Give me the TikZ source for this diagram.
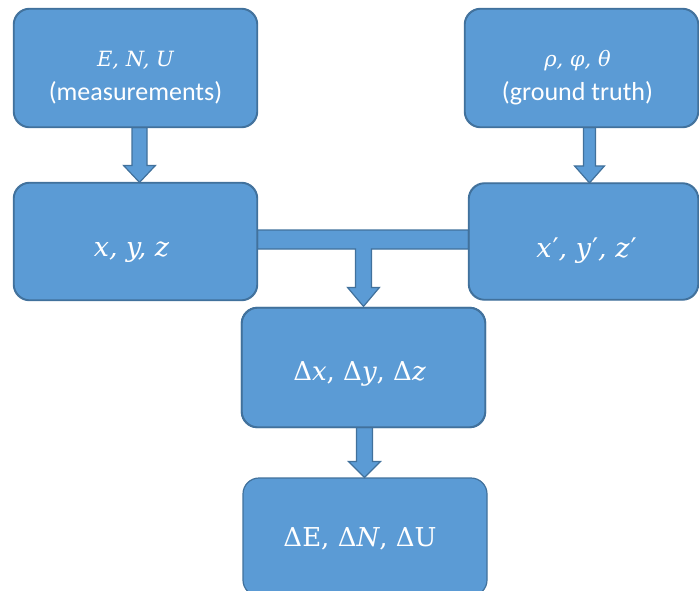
\documentclass[tikz,border=0pt]{standalone}
\usepackage{fontspec}
\setsansfont{Carlito}
\newfontfamily\symfont{DejaVu Serif}
\usetikzlibrary{calc}
\definecolor{boxfill}{HTML}{5B9BD5}
\definecolor{boxline}{HTML}{41719C}
\tikzset{
  stage/.style={draw=boxline, line width=1.2pt, fill=boxfill, rounded corners=16pt,
    inner sep=0pt},
  caption/.style={text=white, align=center, inner sep=0pt},
  small/.style={caption, font=\sffamily\fontsize{26}{34}\selectfont},
  big/.style={caption, font=\symfont\fontsize{26}{34}\selectfont},
  flow/.style={draw=boxline, line width=1.2pt, fill=boxfill, line join=miter}
}
% block arrow: #1 start, #2 tip, #3 half shaft width, #4 half head width, #5 head length
\newcommand\blockarrow[5]{%
  \path[flow] let \p1=(#1), \p2=(#2) in
    (\x1-#3,\y1) -- (\x1+#3,\y1) -- (\x1+#3,\y2+#5) -- (\x1+#4,\y2+#5)
    -- (\x1,\y2) -- (\x1-#4,\y2+#5) -- (\x1-#3,\y2+#5) -- cycle;
}
\newcommand\vars[1]{{\symfont\itshape #1}}
\newcommand\topvars[1]{{\symfont\itshape\fontsize{21}{34}\selectfont #1}}
\newcommand\prm{{\upshape\kern1pt′}}
\begin{document}
\begin{tikzpicture}[x=1pt,y=1pt]
\useasboundingbox (0,0) rectangle (699,-590);

% inputs
\node[stage, minimum width=243pt, minimum height=118pt] (enu) at (135.5,-68) {};
\node[stage, minimum width=233pt, minimum height=118pt] (rpt) at (581.5,-68) {};

% cartesian coordinates and difference box
\node[stage, minimum width=243pt, minimum height=117pt] (xyz) at (135.5,-241.5) {};
\node[stage, minimum width=229pt, minimum height=116pt] (xyzp) at (583.5,-241.5) {};
\node[stage, minimum width=243pt, minimum height=119pt] (dxyz) at (363.5,-367.5) {};

% joining bar with its arrow down to the difference box
\path[flow] let \p1=(xyz.east), \p2=(xyzp.west), \p3=(dxyz.north) in
  (\x1,\y1+11.5) -- (\x2,\y1+11.5) -- (\x2,\y1-7.5) -- (\x3+8,\y1-7.5)
  -- (\x3+8,\y3+20) -- (\x3+16,\y3+20) -- (\x3,\y3+1) -- (\x3-16,\y3+20)
  -- (\x3-8,\y3+20) -- (\x3-8,\y1-7.5) -- (\x1,\y1-7.5) -- cycle;
\draw[boxline, line width=1.2pt, rounded corners=16pt] (xyz.south west) rectangle (xyz.north east);
\draw[boxline, line width=1.2pt, rounded corners=16pt] (xyzp.south west) rectangle (xyzp.north east);
\draw[boxline, line width=1.2pt, rounded corners=16pt] (dxyz.south west) rectangle (dxyz.north east);

% result
\node[stage, minimum width=244pt, minimum height=118pt] (denu) at (365,-537) {};

% arrows
\blockarrow{[xshift=4pt]enu.south}{[xshift=4pt]xyz.north}{7.5}{16}{17}
\blockarrow{[xshift=8pt]rpt.south}{[xshift=7pt]xyzp.north}{6}{15}{17}
\blockarrow{[xshift=1pt]dxyz.south}{[xshift=1pt]denu.north}{8}{16}{16}

% redraw box edges over the arrow roots
\draw[boxline, line width=1.2pt, rounded corners=16pt] (enu.south west) rectangle (enu.north east);
\draw[boxline, line width=1.2pt, rounded corners=16pt] (rpt.south west) rectangle (rpt.north east);
\draw[boxline, line width=1.2pt, rounded corners=16pt] (dxyz.south west) rectangle (dxyz.north east);

% texts
\node[small] (enu-t) at ([yshift=-10pt]enu.center) {\topvars{E, N, U}\\(measurements)};
\node[small] (rpt-t) at ([yshift=-10pt,xshift=-4pt]rpt.center) {\topvars{ρ, φ, θ}\\(ground truth)};
\node[big, font=\symfont\fontsize{27}{34}\selectfont] (xyz-t) at ([yshift=-11pt,xshift=-4pt]xyz.center) {\vars{x, y, z}};
\node[big, font=\symfont\fontsize{27}{34}\selectfont] (xyzp-t) at ([yshift=-9pt,xshift=3pt]xyzp.center) {\vars{x\prm, y\prm, z\prm}};
\node[big] (dxyz-t) at ([yshift=-6pt,xshift=-4pt]dxyz.center) {Δ\vars{x}, Δ\vars{y}, Δ\vars{z}};
\node[big] (denu-t) at ([yshift=-2pt,xshift=-5pt]denu.center) {ΔE, Δ\vars{N}, ΔU};
\end{tikzpicture}
\end{document}
